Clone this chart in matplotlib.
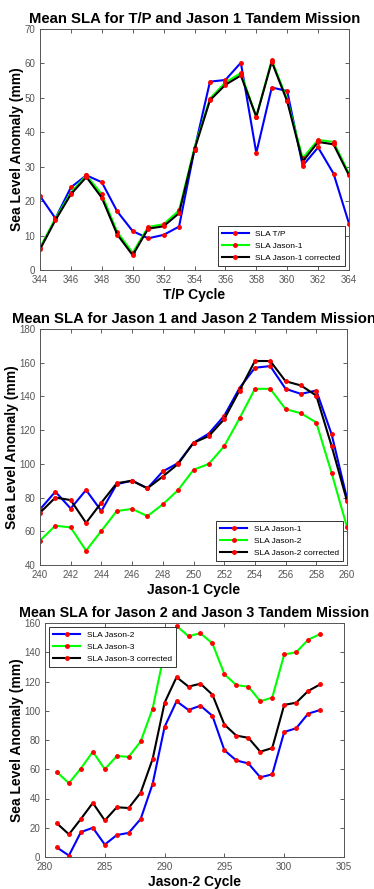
import matplotlib
matplotlib.use('Agg')
import matplotlib.pyplot as plt

plt.rcParams['font.family'] = ['Liberation Sans', 'DejaVu Sans']

# Panel 1: T/P and Jason-1
tp_cycles = list(range(344, 365))
sla_tp = [21.5, 15, 24, 27.5, 25.5, 17, 11.3, 9.2, 10.2, 12.6, 35,
          54.7, 55.2, 60.2, 34, 53, 52, 30.3, 35.6, 28, 13.5]
sla_j1_a = [6.5, 15, 22.5, 27.5, 22, 11, 5, 12.5, 13.3, 17.3, 35.5,
            49.8, 54.5, 57.2, 44.5, 61, 49.5, 32.5, 37.8, 37.2, 28]
sla_j1_corr = [6, 14.5, 22, 27, 21, 10.3, 4.3, 12, 12.7, 16.5, 35,
               49.3, 53.8, 56.5, 44.5, 60.5, 49, 31.5, 37.2, 36.5, 27.5]

# Panel 2: Jason-1 and Jason-2
j1_cycles = list(range(240, 261))
sla_j1_b = [73, 83.5, 73.5, 84.5, 72, 88, 90, 85.5, 95.5, 100.5, 112.5,
            118, 128.5, 145, 157, 158, 144.5, 141.5, 143.5, 117.5, 79.5]
sla_j2_a = [54.5, 63.3, 62.3, 48.5, 60.3, 72, 73.3, 69, 76, 84.5, 96.5,
            100, 110.5, 127, 144.5, 144.5, 132.5, 130, 124.5, 94.5, 62.5]
sla_j2_corr = [71, 80, 78.5, 65, 77, 88.5, 90, 85.5, 92.5, 100, 112.5,
               116.5, 126.5, 143.5, 161, 161, 149, 146.5, 140.5, 110.5, 78]

# Panel 3: Jason-2 and Jason-3
j2_cycles = list(range(281, 304))
sla_j2_b = [6.5, 1, 17, 20, 8.5, 15, 16.5, 26, 50, 89, 106.5, 100.5,
            103.5, 96.5, 73, 66, 64, 54.5, 56.5, 85.5, 88, 98, 100.5]
sla_j3 = [58, 50.5, 60.5, 72, 60, 69, 68.5, 79, 101.5, 140.5, 158, 151,
          153, 146, 125, 117.5, 116.5, 106.5, 109, 138.5, 140, 148.5, 152.5]
sla_j3_corr = [23, 15.5, 26, 37, 25, 34, 33.5, 44, 67, 105.5, 123, 116.5,
               118.5, 111, 90.5, 83, 81.5, 72, 74.5, 104, 105.5, 113.5, 118]

W, H = 374, 889
fig = plt.figure(figsize=(W / 100, H / 100), dpi=100)


def make_axes(left, top, right, bottom):
    return fig.add_axes([left / W, 1 - bottom / H, (right - left) / W, (bottom - top) / H])


def draw_panel(ax, x, series, labels, title, xlabel, xlim, xticks, ylim, yticks,
               loc, title_size=10.7):
    colors = ['#0000ff', '#00ff00', 'black']
    for y, lab, c in zip(series, labels, colors):
        ax.plot(x, y, color=c, lw=1.5, marker='o', ms=2.5,
                mfc='red', mec='red', label=lab)
    ax.set_xlim(*xlim)
    ax.set_ylim(*ylim)
    ax.set_xticks(xticks)
    ax.set_yticks(yticks)
    ax.tick_params(direction='in', top=True, right=True, length=3,
                   labelsize=7, colors='#444444', labelcolor='#555555', width=0.6)
    for s in ax.spines.values():
        s.set_color('#555555')
        s.set_linewidth(0.7)
    ax.set_title(title, fontsize=title_size, fontweight='bold', pad=4)
    ax.set_xlabel(xlabel, fontsize=10, fontweight='bold', labelpad=2)
    ax.set_ylabel('Sea Level Anomaly (mm)', fontsize=10, fontweight='bold', labelpad=0)
    leg = ax.legend(loc=loc, fontsize=6, fancybox=False, framealpha=1,
                    edgecolor='#333333', handlelength=3.2, borderpad=0.5,
                    labelspacing=0.5)
    leg.get_frame().set_linewidth(0.7)


ax1 = make_axes(40, 29, 349, 270)
draw_panel(ax1, tp_cycles, [sla_tp, sla_j1_a, sla_j1_corr],
           ['SLA T/P', 'SLA Jason-1', 'SLA Jason-1 corrected'],
           'Mean SLA for T/P and Jason 1 Tandem Mission', 'T/P Cycle',
           (344, 364), range(344, 365, 2), (0, 70), range(0, 71, 10), 'lower right')

ax2 = make_axes(40, 329, 347, 565)
draw_panel(ax2, j1_cycles, [sla_j1_b, sla_j2_a, sla_j2_corr],
           ['SLA Jason-1', 'SLA Jason-2', 'SLA Jason-2 corrected'],
           'Mean SLA for Jason 1 and Jason 2 Tandem Mission', 'Jason-1 Cycle',
           (240, 260), range(240, 261, 2), (40, 180), range(40, 181, 20), 'lower right')

ax3 = make_axes(45, 623, 344, 857)
draw_panel(ax3, j2_cycles, [sla_j2_b, sla_j3, sla_j3_corr],
           ['SLA Jason-2', 'SLA Jason-3', 'SLA Jason-3 corrected'],
           'Mean SLA for Jason 2 and Jason 3 Tandem Mission', 'Jason-2 Cycle',
           (280, 305), range(280, 306, 5), (0, 160), range(0, 161, 20), 'upper left',
           title_size=10.3)

fig.savefig('out.png', dpi=100)
